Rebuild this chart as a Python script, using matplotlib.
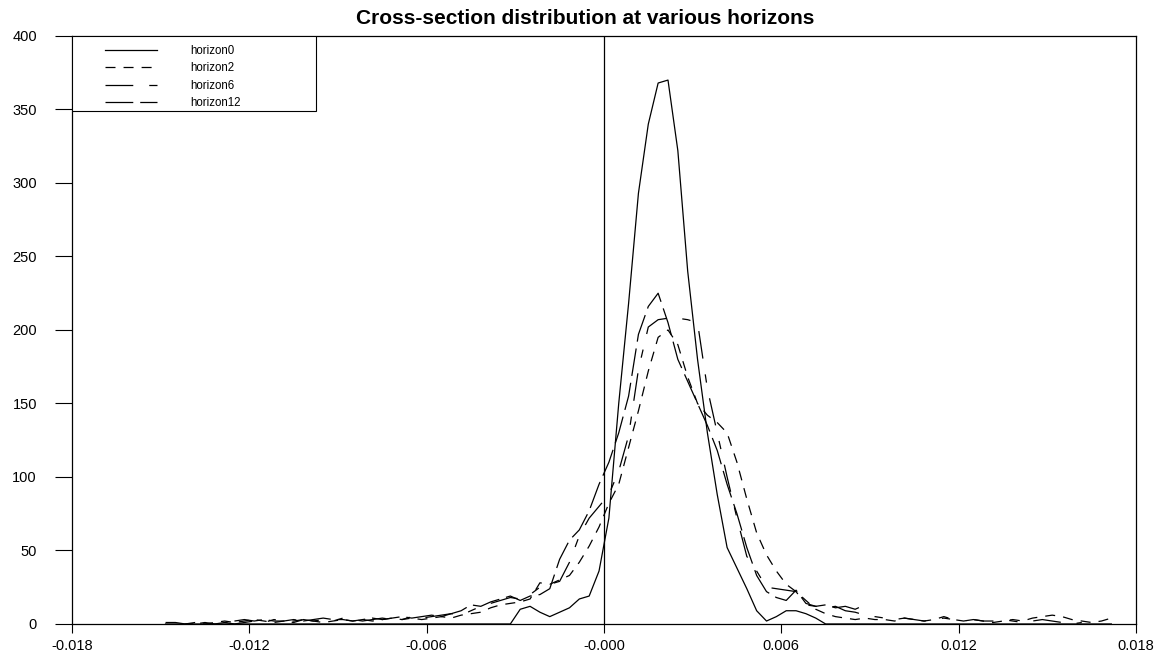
import numpy as np
import matplotlib
matplotlib.use('Agg')
import matplotlib.pyplot as plt
from matplotlib.patches import Rectangle

plt.rcParams['font.family'] = ['Liberation Sans', 'DejaVu Sans']
plt.rcParams['lines.scale_dashes'] = False

nan = np.nan

# --- histogram bins: width 1/3000, first centre at -44.5 bins ---
bin_width = 1 / 3000
first_bin = -44.5

horizon0 = [0, 0, 0, 0, 0, 0, 0, 0, 0, 0, 0, 0,
            0, 0, 0, 0, 0, 0, 0, 0, 0, 0, 0, 0,
            0, 0, 0, 0, 0, 0, 0, 0, 0, 0, 0, 0,
            10, 12, 8, 5, 8, 11, 17, 19, 36, 72, 150, 218,
            293, 340, 368, 370, 322, 240, 180, 130, 88, 52, 38, 24,
            9, 2, 5, 9, 9, 7, 4, 0, 0, 0, 0, 0,
            0, 0, 0, 0, 0, 0, 0, 0, 0, 0, 0, 0,
            0, 0, 0, 0, 0, 0, 0, 0, 0, 0, 0, 0,
            0]

horizon2 = [nan, nan, 0, 1, 0, 1, 2, 1, 2, 3, 2, 1,
            2, 2, 3, 2, 1, 2, 3, 2, 3, 2, 3, 4,
            3, 4, 3, 4, 5, 4, 6, 7, 8, 11, 13, 14,
            15, 17, 28, 27, 30, 33, 42, 53, 66, 82, 95, 120,
            145, 172, 195, 200, 190, 168, 150, 142, 137, 130, 110, 85,
            62, 47, 36, 27, 22, 16, 10, 7, 5, 4, 3, 4,
            3, 3, 2, 4, 3, 2, 3, 5, 3, 2, 3, 2,
            1, 2, 3, 2, 4, 5, 6, 5, 3, 2, 1, 2,
            4]

horizon6 = [nan, nan, nan, nan, nan, nan, 1, 0, 1, 2, 1, 3,
            2, 1, 3, 2, 3, 2, 4, 3, 2, 3, 4, 3,
            3, 5, 4, 5, 6, 7, 6, 9, 12, 14, 16, 18,
            17, 20, 25, 27, 29, 42, 60, 72, 80, 88, 104, 128,
            173, 202, 207, 208, 208, 207, 205, 160, 130, 100, 72, 46,
            36, 25, 24, 23, 22, 13, 12, 11, 12, 9, 8, 6,
            5, 4, 3, 4, 3, 2, 3, 4, 3, 2, 3, 2,
            2, 3, 2, 1, 2, 3, 2, 1, 0, 1, nan, nan,
            nan]

horizon12 = [1, 1, 0, 0, 1, 0, 1, 2, 3, 2, 3, 2,
             2, 3, 2, 3, 4, 3, 3, 2, 3, 4, 3, 4,
             5, 4, 5, 6, 5, 7, 9, 13, 12, 15, 17, 19,
             16, 19, 20, 24, 44, 57, 64, 77, 95, 110, 130, 155,
             197, 216, 225, 205, 180, 165, 150, 135, 118, 95, 75, 52,
             33, 22, 18, 16, 23, 14, 12, 13, 11, 12, 10, 13,
             nan, nan, nan, nan, nan, nan, nan, nan, nan, nan, nan, nan,
             nan, nan, nan, nan, nan, nan, nan, nan, nan, nan, nan, nan,
             nan]

xticks = [-0.018, -0.012, -0.006, 0.0, 0.006, 0.012, 0.018]
xtick_labels = ['-0.018', '-0.012', '-0.006', '-0.000', '0.006', '0.012', '0.018']
yticks = [0, 50, 100, 150, 200, 250, 300, 350, 400]

x = (np.arange(len(horizon0)) + first_bin) * bin_width

fig = plt.figure(figsize=(11.7, 6.65), dpi=100)
ax = fig.add_axes([0.0615, 0.0617, 0.9094, 0.8842])

lw = 0.9
ax.plot(x, horizon0, color='k', lw=lw, label='horizon0')
ax.plot(x, horizon2, color='k', lw=lw, dashes=(7.2, 5.8), label='horizon2')
ax.plot(x, horizon6, color='k', lw=lw, dashes=(20, 11.5, 6, 11.5), label='horizon6')
ax.plot(x, horizon12, color='k', lw=lw, dashes=(20, 5), label='horizon12')
ax.axvline(0, color='k', lw=lw)

ax.set_xlim(-0.018, 0.018)
ax.set_ylim(0, 400)
ax.set_xticks(xticks)
ax.set_xticklabels(xtick_labels)
ax.set_yticks(yticks)
ax.tick_params(axis='y', length=12.2, pad=13, labelsize=10.5, width=0.8)
ax.tick_params(axis='x', length=6.5, pad=4, labelsize=10.5, width=0.8)
for s in ax.spines.values():
    s.set_linewidth(0.9)

# legend frame drawn by hand (box is wider than its content)
ax.add_patch(Rectangle((0, 1 - 75 / 589), 244 / 1064, 75 / 589, transform=ax.transAxes,
                       facecolor='white', edgecolor='k', lw=0.8, zorder=4))
ax.legend(loc='upper left', bbox_to_anchor=(0.031, 0.985), frameon=False, borderpad=0,
          borderaxespad=0, fontsize=8.3, handlelength=4.5, handletextpad=2.9, labelspacing=0.47)

fig.text(0.5, 0.972, 'Cross-section distribution at various horizons', ha='center', va='center',
         fontsize=15, fontweight='bold')

fig.savefig('out.png', dpi=100)
